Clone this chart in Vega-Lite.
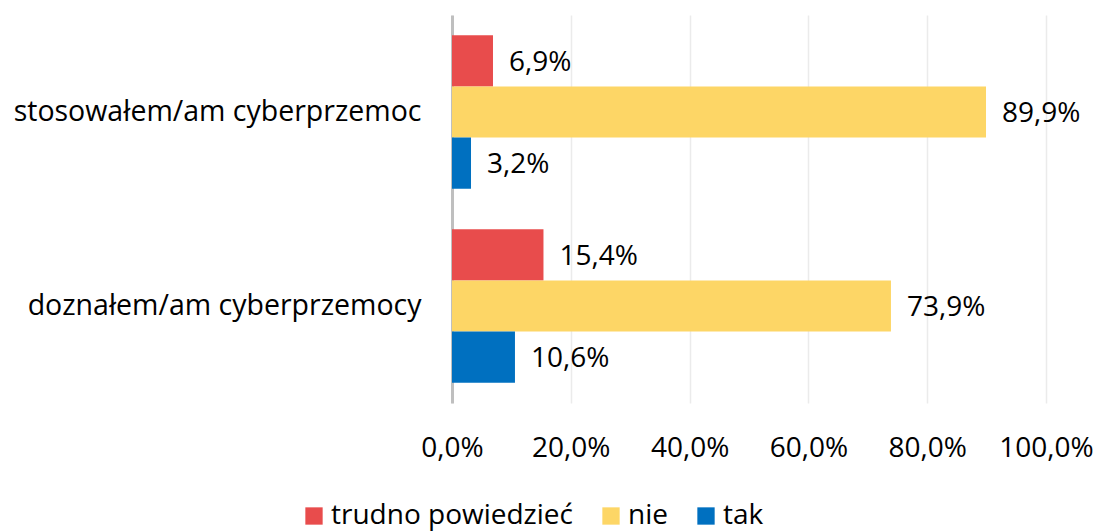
{
  "$schema": "https://vega.github.io/schema/vega-lite/v6.json",
  "width": 594,
  "height": 388,
  "autosize": {"type": "none"},
  "padding": {"left": 452, "top": 15, "right": 51, "bottom": 128},
  "config": {
    "locale": {"number": {"decimal": ",", "thousands": " ", "grouping": [3], "currency": ["", " zł"]}},
    "font": "Open Sans",
    "view": {"stroke": null}
  },
  "data": {
    "values": [
      {"cat": "stosowałem/am cyberprzemoc", "odp": "trudno powiedzieć", "v": 0.069},
      {"cat": "stosowałem/am cyberprzemoc", "odp": "nie", "v": 0.899},
      {"cat": "stosowałem/am cyberprzemoc", "odp": "tak", "v": 0.032},
      {"cat": "doznałem/am cyberprzemocy", "odp": "trudno powiedzieć", "v": 0.154},
      {"cat": "doznałem/am cyberprzemocy", "odp": "nie", "v": 0.739},
      {"cat": "doznałem/am cyberprzemocy", "odp": "tak", "v": 0.106}
    ]
  },
  "encoding": {
    "y": {
      "field": "cat", "type": "nominal",
      "sort": ["stosowałem/am cyberprzemoc", "doznałem/am cyberprzemocy"],
      "scale": {"paddingInner": 0.21, "paddingOuter": 0.105},
      "axis": {"title": null, "ticks": false, "domainColor": "#BFBFBF", "domainWidth": 3, "labelFontSize": 28.5, "labelColor": "#000000", "labelPadding": 31, "labelFont": "Open Sans", "labelLimit": 0}
    },
    "yOffset": {
      "field": "odp", "type": "nominal",
      "sort": ["trudno powiedzieć", "nie", "tak"],
      "scale": {"paddingInner": 0, "paddingOuter": 0}
    },
    "x": {
      "field": "v", "type": "quantitative",
      "scale": {"domain": [0, 1]},
      "axis": {"title": null, "values": [0, 0.2, 0.4, 0.6, 0.8, 1], "format": ".1%", "domain": false, "ticks": false, "gridColor": "#EBEBEB", "gridWidth": 1.5, "labelFontSize": 28, "labelColor": "#000000", "labelPadding": 31, "labelFont": "Open Sans", "labelOverlap": false, "labelFlush": false}
    }
  },
  "layer": [
    {
      "mark": {"type": "bar"},
      "encoding": {
        "color": {
          "field": "odp", "type": "nominal",
          "sort": ["trudno powiedzieć", "nie", "tak"],
          "scale": {"domain": ["trudno powiedzieć", "nie", "tak"], "range": ["#E84C4C", "#FDD666", "#0070C0"]},
          "legend": {"title": null, "orient": "none", "direction": "horizontal", "legendX": -152, "legendY": 487, "symbolType": "square", "symbolSize": 300, "symbolStrokeWidth": 0, "symbolOpacity": 1, "labelFontSize": 28, "labelColor": "#000000", "labelFont": "Open Sans", "labelOffset": 3, "labelLimit": 0, "columnPadding": 24}
        }
      }
    },
    {
      "mark": {"type": "text", "align": "left", "baseline": "middle", "dx": 16, "dy": 2, "fontSize": 28, "color": "#000000"},
      "encoding": {"text": {"field": "v", "type": "quantitative", "format": ".1%"}}
    }
  ]
}
